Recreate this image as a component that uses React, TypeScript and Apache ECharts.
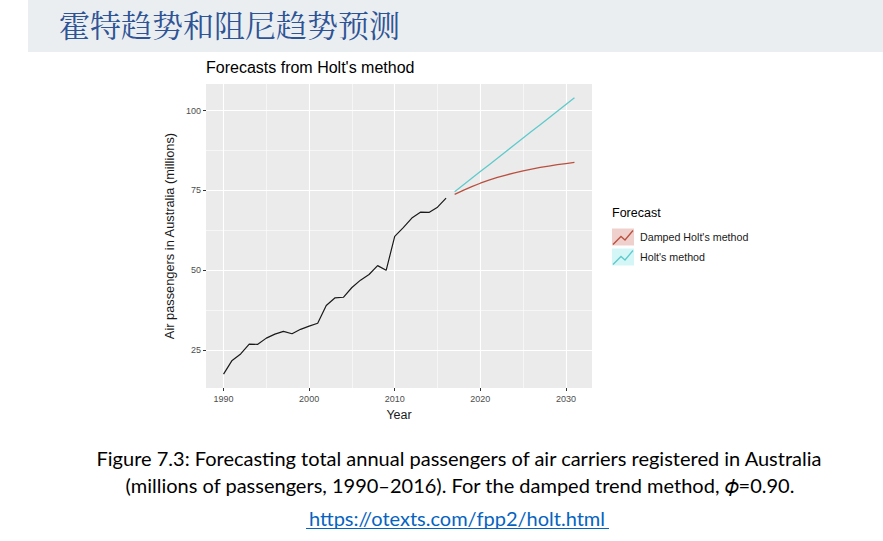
import React, { useEffect, useRef } from "react";
import * as echarts from "echarts";

const historyYears = [1990,1991,1992,1993,1994,1995,1996,1997,1998,1999,2000,2001,2002,2003,2004,2005,2006,2007,2008,2009,2010,2011,2012,2013,2014,2015,2016];
const historyValues = [17.55,21.86,23.89,26.93,26.89,28.83,30.08,30.95,30.19,31.58,32.58,33.48,39.02,41.39,41.60,44.66,46.95,48.73,51.49,50.03,60.64,63.36,66.36,68.20,68.12,69.78,72.60];
const forecastYears = [2017,2018,2019,2020,2021,2022,2023,2024,2025,2026,2027,2028,2029,2030,2031];
const holtValues = [74.60,76.70,78.80,80.90,82.99,85.09,87.19,89.29,91.39,93.48,95.58,97.68,99.78,101.88,103.97];
const dampedValues = [73.75,75.05,76.21,77.26,78.21,79.06,79.82,80.51,81.13,81.69,82.19,82.64,83.05,83.42,83.75];
const xTicks = [1990,2000,2010,2020,2030];
const xMinor = [1995,2005,2015,2025];
const yTicks = [25,50,75,100];
const yMinor = [37.5,62.5,87.5];
const seriesNames = ["Damped Holt's method", "Holt's method"];

const pageTitle = "霍特趋势和阻尼趋势预测";
const chartTitle = "Forecasts from Holt's method";
const captionLine1 = "Figure 7.3: Forecasting total annual passengers of air carriers registered in Australia";
const captionLine2 = "(millions of passengers, 1990–2016). For the damped trend method, 𝜙=0.90.";
const linkText = "https://otexts.com/fpp2/holt.html";

const SANS = "'Liberation Sans', Arial, Helvetica, sans-serif";
const CAP = "Lato, 'Open Sans', 'DejaVu Sans', sans-serif";

export default function App() {
  const ref = useRef<HTMLDivElement>(null);
  useEffect(() => {
    if (!ref.current) return;
    const chart = echarts.init(ref.current, null, { renderer: "svg" });
    const zip = (xs: number[], ys: number[]) => xs.map((x, i) => [x, ys[i]]);
    const vline = (v: number, w: number) => ({ xAxis: v, lineStyle: { width: w } });
    const hline = (v: number, w: number) => ({ yAxis: v, lineStyle: { width: w } });
    const colDamped = "#B9503F";
    const colHolt = "#5ECACB";
    const legendItem = (y: number, fill: string, stroke: string, label: string) => ({
      type: "group",
      x: 612,
      y,
      children: [
        { type: "rect", shape: { x: 0, y: 0, width: 22, height: 17 }, style: { fill } },
        { type: "polyline", shape: { points: [[1, 16], [9, 8], [13, 11.5], [21, 2]] }, style: { stroke, lineWidth: 1.3, fill: "none" } },
        { type: "text", x: 28, y: 8.5, style: { text: label, font: `10.7px ${SANS}`, fill: "#1a1a1a", verticalAlign: "middle" } },
      ],
    });
    chart.setOption({
      animation: false,
      backgroundColor: "#ffffff",
      grid: { left: 206, top: 84, width: 386, height: 304, show: true, backgroundColor: "#EBEBEB", borderWidth: 0 },
      xAxis: {
        type: "value",
        min: 1987.95,
        max: 2033.05,
        name: "Year",
        nameLocation: "middle",
        nameGap: 20,
        nameTextStyle: { fontFamily: SANS, fontSize: 12.5, color: "#1a1a1a" },
        axisLine: { show: false },
        splitLine: { show: false },
        axisTick: { show: true, length: 3, customValues: xTicks, lineStyle: { color: "#333333", width: 1 } },
        axisLabel: { customValues: xTicks, margin: 6, fontFamily: SANS, fontSize: 9, color: "#4D4D4D", formatter: (v: number) => String(v) },
      },
      yAxis: {
        type: "value",
        min: 13.23,
        max: 108.29,
        name: "Air passengers in Australia (millions)",
        nameLocation: "middle",
        nameGap: 30,
        nameRotate: 90,
        nameTextStyle: { fontFamily: SANS, fontSize: 12.8, color: "#1a1a1a" },
        axisLine: { show: false },
        splitLine: { show: false },
        axisTick: { show: true, length: 3, customValues: yTicks, lineStyle: { color: "#333333", width: 1 } },
        axisLabel: { customValues: yTicks, margin: 5, fontFamily: SANS, fontSize: 9, color: "#4D4D4D", formatter: (v: number) => String(v) },
      },
      series: [
        {
          type: "line",
          name: "grid",
          data: [],
          z: 1,
          silent: true,
          markLine: {
            silent: true,
            z: 1,
            symbol: "none",
            label: { show: false },
            lineStyle: { color: "#ffffff", type: "solid" },
            data: [
              ...xTicks.map((v) => vline(v, 1.1)),
              ...xMinor.map((v) => vline(v, 0.55)),
              ...yTicks.map((v) => hline(v, 1.1)),
              ...yMinor.map((v) => hline(v, 0.55)),
            ],
          },
        },
        {
          type: "line",
          name: "Data",
          data: zip(historyYears, historyValues),
          showSymbol: false,
          z: 10,
          lineStyle: { color: "#1a1a1a", width: 1.2 },
        },
        {
          type: "line",
          name: seriesNames[1],
          data: zip(forecastYears, holtValues),
          showSymbol: false,
          z: 10,
          lineStyle: { color: colHolt, width: 1.3 },
        },
        {
          type: "line",
          name: seriesNames[0],
          data: zip(forecastYears, dampedValues),
          showSymbol: false,
          z: 10,
          lineStyle: { color: colDamped, width: 1.3 },
        },
      ],
      graphic: [
        { type: "rect", shape: { x: 28, y: 0, width: 855, height: 52 }, style: { fill: "#EBEEF0" }, z: -1 },
        { type: "text", x: 59, y: 23, style: { text: pageTitle, font: `31px 'Noto Serif CJK SC', 'Noto Sans CJK SC', serif`, lineHeight: 31, fill: "#2E5496", verticalAlign: "middle" } },
        { type: "text", x: 206, y: 67, style: { text: chartTitle, font: `16px ${SANS}`, fill: "#000000", verticalAlign: "middle" } },
        { type: "text", x: 612, y: 213, style: { text: "Forecast", font: `12.5px ${SANS}`, fill: "#000000", verticalAlign: "middle" } },
        legendItem(228.5, "#EFD0CC", colDamped, seriesNames[0]),
        legendItem(248.5, "#D5F6F7", colHolt, seriesNames[1]),
        { type: "text", x: 459, y: 458, style: { text: captionLine1, font: `20px ${CAP}`, fill: "#000000", align: "center", verticalAlign: "middle" } },
        { type: "text", x: 460, y: 485, style: { text: captionLine2, font: `20px ${CAP}`, fill: "#000000", align: "center", verticalAlign: "middle" } },
        { type: "text", x: 457, y: 518, style: { text: linkText, font: `20px ${CAP}`, fill: "#0563C1", align: "center", verticalAlign: "middle" } },
        { type: "line", shape: { x1: 306, y1: 528.5, x2: 609, y2: 528.5 }, style: { stroke: "#0563C1", lineWidth: 1 } },
      ],
    });
    return () => chart.dispose();
  }, []);
  return <div ref={ref} style={{ position: "absolute", left: 0, top: 0, width: 883, height: 541 }} />;
}
